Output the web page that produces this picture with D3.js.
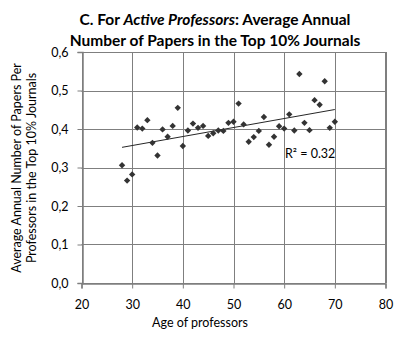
<!DOCTYPE html>
<html>
<head>
<meta charset="utf-8">
<script src="https://cdn.jsdelivr.net/npm/d3@7"></script>
<style>
  body { margin: 0; background: #fff; }
  text { font-family: Lato, "Open Sans", sans-serif; fill: #000; }
</style>
</head>
<body>
<script>
// ages and average annual papers (top 10% journals)
var ages = [28, 29, 30, 31, 32, 33, 34, 35, 36, 37, 38, 39, 40, 41, 42, 43, 44, 45, 46, 47, 48, 49,
            50, 51, 52, 53, 54, 55, 56, 57, 58, 59, 60, 61, 62, 63, 64, 65, 66, 67, 68, 69, 70];
var papers = [0.306, 0.266, 0.282, 0.404, 0.401, 0.423, 0.364, 0.331, 0.399, 0.380, 0.408, 0.455,
              0.356, 0.396, 0.414, 0.403, 0.408, 0.382, 0.389, 0.396, 0.395, 0.416, 0.419, 0.466,
              0.412, 0.367, 0.379, 0.395, 0.431, 0.359, 0.380, 0.407, 0.401, 0.438, 0.396, 0.543,
              0.416, 0.397, 0.475, 0.463, 0.524, 0.403, 0.419];
var xTicks = [20, 30, 40, 50, 60, 70, 80];
var yTicks = [0, 0.1, 0.2, 0.3, 0.4, 0.5, 0.6];
var r2Label = "R² = 0.32";

var width = 400, height = 337;
var plotLeft = 81.5, plotRight = 385.5, plotTop = 52, plotBottom = 283;

var svg = d3.select("body").append("svg")
    .attr("width", width)
    .attr("height", height);

var x = d3.scaleLinear().domain([20, 80]).range([plotLeft, plotRight]);
var y = d3.scaleLinear().domain([0, 0.6]).range([plotBottom, plotTop]);

// grid
svg.append("g").selectAll("line")
    .data(xTicks)
    .enter().append("line")
    .attr("x1", function(d) { return Math.round(x(d)) + 0.5; })
    .attr("x2", function(d) { return Math.round(x(d)) + 0.5; })
    .attr("y1", plotTop).attr("y2", plotBottom)
    .attr("stroke", "#7f7f7f");

svg.append("g").selectAll("line")
    .data(yTicks)
    .enter().append("line")
    .attr("y1", function(d) { return Math.round(y(d)) + 0.5; })
    .attr("y2", function(d) { return Math.round(y(d)) + 0.5; })
    .attr("x1", plotLeft).attr("x2", plotRight)
    .attr("stroke", "#7f7f7f");

// axes
var xAxis = svg.append("g")
    .attr("transform", "translate(0," + (Math.round(plotBottom) + 0.5) + ")")
    .call(d3.axisBottom(x).tickValues(xTicks).tickSize(5).tickPadding(12));
var yAxis = svg.append("g")
    .attr("transform", "translate(" + (Math.round(plotLeft) + 0.5) + ",0)")
    .call(d3.axisLeft(y).tickValues(yTicks).tickSize(5).tickPadding(9)
          .tickFormat(function(d) { return d3.format(".1f")(d).replace(".", ","); }));

[xAxis, yAxis].forEach(function(a) {
    a.selectAll("path").attr("stroke", "#7f7f7f").attr("stroke-width", 1.5);
    a.selectAll("line").attr("stroke", "#7f7f7f");
    a.selectAll("text").style("font-size", "12.5px").attr("fill", "#000");
});

// right border a bit heavier
svg.append("line")
    .attr("x1", plotRight + 0.5).attr("x2", plotRight + 0.5)
    .attr("y1", plotTop).attr("y2", plotBottom)
    .attr("stroke", "#7f7f7f").attr("stroke-width", 2);

// linear trend
var mx = d3.mean(ages), my = d3.mean(papers);
var sxy = d3.sum(ages, function(a, i) { return (a - mx) * (papers[i] - my); });
var sxx = d3.sum(ages, function(a) { return (a - mx) * (a - mx); });
var slope = sxy / sxx, icept = my - slope * mx;
var x0 = d3.min(ages), x1 = d3.max(ages);

svg.append("line")
    .attr("x1", x(x0)).attr("y1", y(icept + slope * x0))
    .attr("x2", x(x1)).attr("y2", y(icept + slope * x1))
    .attr("stroke", "#262626").attr("stroke-width", 1);

// points as diamonds
svg.append("g").selectAll("path")
    .data(ages)
    .enter().append("path")
    .attr("d", d3.symbol().type(d3.symbolDiamond2).size(26))
    .attr("transform", function(d, i) { return "translate(" + x(d) + "," + y(papers[i]) + ")"; })
    .attr("fill", "#333");

svg.append("text")
    .attr("x", 285).attr("y", 158)
    .style("font-size", "12.5px")
    .text(r2Label);

// title
var title = svg.append("text")
    .attr("text-anchor", "middle")
    .style("font-size", "15.5px")
    .style("font-weight", "bold");
var t1 = title.append("tspan").attr("x", 215).attr("y", 25);
t1.append("tspan").text("C. For ");
t1.append("tspan").style("font-style", "italic").text("Active Professors");
t1.append("tspan").text(":  Average Annual");
title.append("tspan").attr("x", 215).attr("y", 46)
    .text("Number of Papers in the Top 10% Journals");

// axis titles
svg.append("text")
    .attr("x", 200).attr("y", 327)
    .attr("text-anchor", "middle")
    .style("font-size", "12.5px")
    .text("Age of professors");

var yt = svg.append("text")
    .attr("transform", "translate(21,168) rotate(-90)")
    .attr("text-anchor", "middle")
    .style("font-size", "12.5px");
yt.append("tspan").attr("x", 0).attr("y", 0).text("Average Annual Number of Papers Per");
yt.append("tspan").attr("x", 0).attr("y", 15).text("Professors in the Top 10% Journals");
</script>
</body>
</html>
